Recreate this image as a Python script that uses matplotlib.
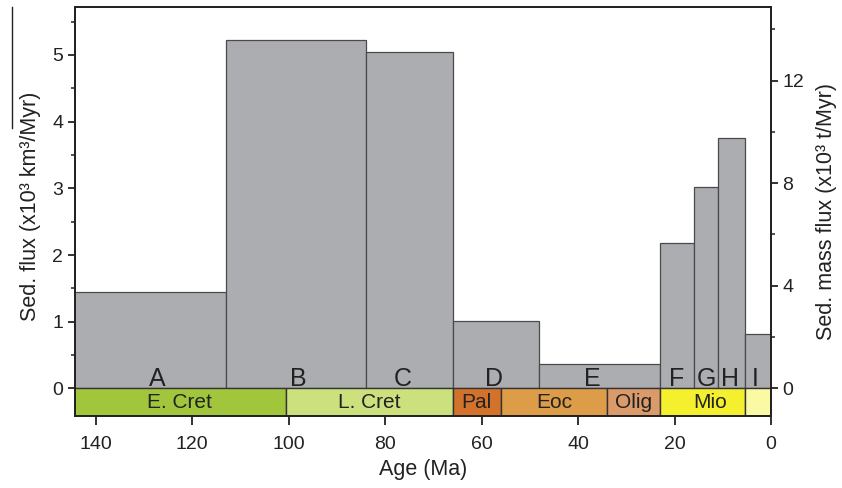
import matplotlib
matplotlib.use("Agg")
import matplotlib.pyplot as plt
from matplotlib.lines import Line2D

plt.rcParams['font.family'] = ['Liberation Sans', 'DejaVu Sans']

# ---- data ----
bar_labels = ['A', 'B', 'C', 'D', 'E', 'F', 'G', 'H', 'I']
bar_start = [145, 113, 84, 66, 48, 23, 16, 11, 5.3]      # Ma (older edge)
bar_end = [113, 84, 66, 48, 23, 16, 11, 5.3, 0]          # Ma (younger edge)
bar_flux = [1.44, 5.23, 5.05, 1.01, 0.36, 2.18, 3.02, 3.76, 0.81]  # x10^3 km^3/Myr
label_age = [127.3, 98.1, 76.4, 57.5, 37.0, 19.5, 13.3, 8.5, 3.2]

period_names = ['E. Cret', 'L. Cret', 'Pal', 'Eoc', 'Olig', 'Mio', '']
period_start = [145, 100.5, 66, 56, 33.9, 23, 5.3]
period_end = [100.5, 66, 56, 33.9, 23, 5.3, 0]
period_colors = ['#a1c63c', '#cde07e', '#d3722b', '#dd9c47', '#da9a6a', '#f4f02e', '#fafaa4']
period_label_age = [122.75, 83.25, 61.0, 44.95, 28.45, 12.6, 2.65]

x_ticks = [140, 120, 100, 80, 60, 40, 20, 0]
left_ticks = [0, 1, 2, 3, 4, 5]
left_minor = [0.5, 1.5, 2.5, 3.5, 4.5, 5.5]
right_ticks = [0, 4, 8, 12]
right_minor = [2, 6, 10, 14]

density = 2.6  # t / m^3 conversion between axes

fig = plt.figure(figsize=(8.42, 4.88), dpi=100)
ax = fig.add_axes([75/842, 1-416/488, (771-75)/842, (416-7)/488])

ymin, ymax = -0.415, 5.72
ax.set_xlim(144.3, 0)
ax.set_ylim(ymin, ymax)

ink = '#222222'

# bars
for s, e, h in zip(bar_start, bar_end, bar_flux):
    ax.bar(e, h, width=s - e, align='edge', bottom=0,
           color='#acadb1', edgecolor='#4a4a4a', linewidth=0.9, zorder=2)
for lab, x in zip(bar_labels, label_age):
    ax.text(x, 0.03, lab, ha='center', va='baseline', fontsize=18,
            color=ink, zorder=4)

# period strip
for name, s, e, c, lx in zip(period_names, period_start, period_end,
                             period_colors, period_label_age):
    ax.bar(e, ymin, width=s - e, align='edge', bottom=0,
           color=c, edgecolor='#333333', linewidth=1.0, zorder=3)
    if name:
        ax.text(lx, ymin / 2, name, ha='center', va='center', fontsize=15,
                color=ink, zorder=4)

# axes styling
for sp in ax.spines.values():
    sp.set_linewidth(1.3)
    sp.set_color(ink)
    sp.set_zorder(5)

ax.set_xticks(x_ticks)
ax.tick_params(axis='x', direction='out', length=6.5, width=1.3, pad=8,
               labelsize=14, colors=ink)
ax.set_yticks(left_ticks)
ax.set_yticks(left_minor, minor=True)
ax.tick_params(axis='y', which='major', direction='out', length=5, width=1.3,
               pad=3.5, labelsize=14, colors=ink)
ax.tick_params(axis='y', which='minor', direction='out', length=3, width=1.1,
               colors=ink)
ax.set_xlabel('Age (Ma)', fontsize=15.5, labelpad=4, color=ink)
ax.set_ylabel('Sed. flux (x10\u00b3 km\u00b3/Myr)', fontsize=15.5, labelpad=8,
              color=ink, y=0.512)

# right axis
ax2 = ax.twinx()
ax2.set_ylim(ymin * density, ymax * density)
ax2.set_yticks(right_ticks)
ax2.set_yticks(right_minor, minor=True)
ax2.tick_params(axis='y', which='major', direction='out', length=5, width=1.3,
                pad=3, labelsize=14, colors=ink)
ax2.tick_params(axis='y', which='minor', direction='out', length=3, width=1.1,
                colors=ink)
ax2.set_ylabel('Sed. mass flux (x10\u00b3 t/Myr)', fontsize=15.5, labelpad=9,
               color=ink)
for sp in ax2.spines.values():
    sp.set_linewidth(1.3)
    sp.set_color(ink)

# stray overline near left label
fig.add_artist(Line2D([12/842, 12/842], [1-7/488, 1-128/488],
                      transform=fig.transFigure, color=ink, linewidth=1.0))

fig.savefig('out.png', dpi=100, facecolor='white')
